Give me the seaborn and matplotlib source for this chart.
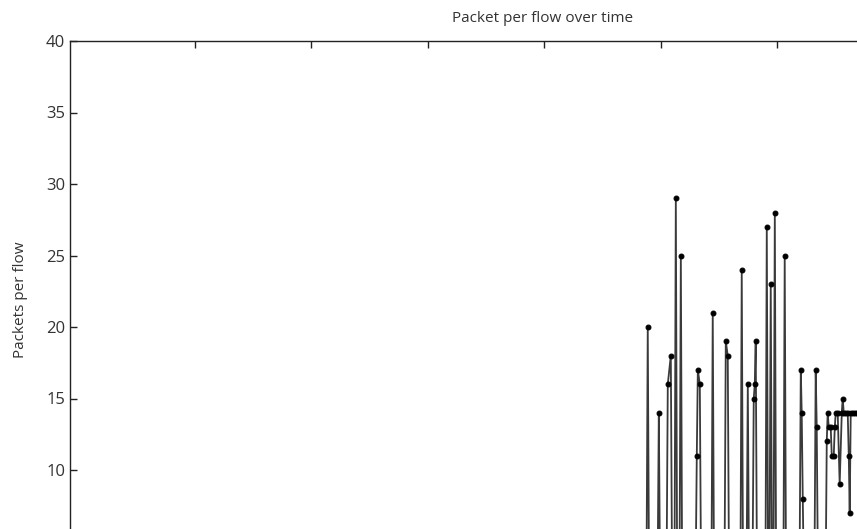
import seaborn as sns
import matplotlib.pyplot as plt
import pandas as pd

# time (s) and packets per flow; low points sit below the visible area
tempo = [0.0, 48.76, 48.88, 49.00,
         49.71, 49.83, 49.95,
         50.48, 50.60, 50.86, 50.98,
         51.17, 51.29, 51.41,
         51.60, 51.72, 51.84,
         52.97, 53.09, 53.18, 53.35, 53.47,
         54.34, 54.46, 54.58,
         55.46, 55.58, 55.75, 55.87,
         56.83, 56.95, 57.07,
         57.35, 57.47, 57.59,
         57.86, 57.98, 58.07, 58.15, 58.27,
         58.98, 59.10, 59.22,
         59.32, 59.44, 59.56,
         59.67, 59.79, 59.91,
         60.52, 60.64, 60.76,
         61.90, 62.02, 62.10, 62.19, 62.31,
         63.18, 63.30, 63.39, 63.51,
         64.14, 64.25, 64.33, 64.42, 64.59, 64.68, 64.85, 64.94, 65.02, 65.19,
         65.36, 65.54, 65.62, 65.71, 65.88, 66.05, 66.14, 66.22, 66.31, 66.48,
         66.65, 66.82, 67.00, 67.20]
pacotes = [1, 1, 20, 1,
           1, 14, 1,
           1, 16, 18, 1,
           1, 29, 1,
           1, 25, 1,
           1, 11, 17, 16, 1,
           1, 21, 1,
           1, 19, 18, 1,
           1, 24, 1,
           1, 16, 1,
           1, 15, 16, 19, 1,
           1, 27, 1,
           1, 23, 1,
           1, 28, 1,
           1, 25, 1,
           1, 17, 14, 8, 1,
           1, 17, 13, 1,
           1, 12, 14, 13, 13, 11, 11, 13, 14, 14,
           9, 14, 15, 14, 14, 14, 11, 7, 14, 14,
           14, 14, 14, 14]
ticks_x = [10, 20, 30, 40, 50, 60, 70, 80]
ticks_y = [10, 15, 20, 25, 30, 35, 40]

df = pd.DataFrame({'tempo': tempo, 'pacotes': pacotes})

sns.set_style('ticks')
plt.rcParams['font.family'] = ['Open Sans', 'DejaVu Sans']

fig = plt.figure(figsize=(8.57, 5.29), dpi=100)
# the original picture is cropped: axes run past the bottom and right edges
ax = fig.add_axes([70 / 857, -84 / 529, 946 / 857, 572 / 529])

sns.lineplot(data=df, x='tempo', y='pacotes', ax=ax, estimator=None, sort=False,
             color='#3a3a3a', linewidth=1.3, marker='o', markersize=3.5,
             markerfacecolor='black', markeredgecolor='black')

ax.set_xlim(-0.73, 80.5)
ax.set_ylim(0, 40)
ax.set_xticks(ticks_x)
ax.set_yticks(ticks_y)
ax.tick_params(direction='in', length=5, width=1, color='#222222',
               labelsize=12, labelcolor='#333333', top=True, right=True)
# x labels sit below the cropped bottom edge in the reference
ax.tick_params(axis='x', labelbottom=False)
for lado in ax.spines.values():
    lado.set_color('#222222')
    lado.set_linewidth(1)

ax.set_title('Packet per flow over time', fontsize=11, color='#333333', pad=14)
ax.set_xlabel('')
ax.set_ylabel('Packets per flow', fontsize=11, color='#333333')
ax.yaxis.set_label_coords(-0.044, 0.547)

fig.savefig('out.png', dpi=100)
